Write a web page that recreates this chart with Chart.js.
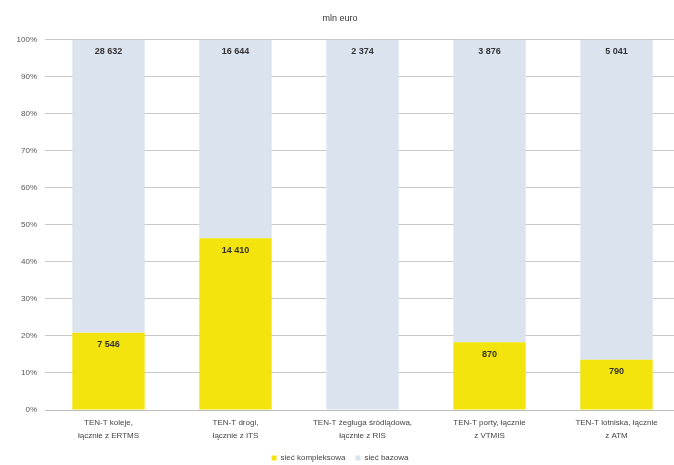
<!DOCTYPE html>
<html>
<head>
<meta charset="utf-8">
<script src="https://cdn.jsdelivr.net/npm/chart.js@4"></script>
<style>
  html, body { margin: 0; padding: 0; background: #fff; overflow: hidden; }
  #wrap { width: 680px; height: 465px; position: relative; }
</style>
</head>
<body>
<div id="wrap"><canvas id="c"></canvas></div>
<script>
// Categories (two-line labels)
const categories = [
  ['TEN-T koleje,', 'łącznie z ERTMS'],
  ['TEN-T drogi,', 'łącznie z ITS'],
  ['TEN-T żegluga śródlądowa,', 'łącznie z RIS'],
  ['TEN-T porty, łącznie', 'z VTMIS'],
  ['TEN-T lotniska, łącznie', 'z ATM']
];
// Values in mln euro
const siecKompleksowa = [7546, 14410, 0, 870, 790];
const siecBazowa = [28632, 16644, 2374, 3876, 5041];
const percentTicks = [0, 10, 20, 30, 40, 50, 60, 70, 80, 90, 100];

const FONT = "'Liberation Sans Narrow', 'Liberation Sans', Arial, sans-serif";

// Shares of each category total (100% stacked)
const totals = siecKompleksowa.map((v, i) => v + siecBazowa[i]);
const pctK = siecKompleksowa.map((v, i) => v / totals[i] * 100);
const pctB = siecBazowa.map((v, i) => v / totals[i] * 100);

const fmt = v => String(v).replace(/\B(?=(\d{3})+(?!\d))/g, ' ');

// Draws the raw value near the top of each bar segment
const valueLabels = {
  id: 'valueLabels',
  afterDatasetsDraw(chart) {
    const ctx = chart.ctx;
    ctx.save();
    ctx.font = 'bold 9px ' + FONT;
    ctx.fillStyle = '#333';
    ctx.textAlign = 'center';
    ctx.textBaseline = 'middle';
    chart.data.datasets.forEach((ds, di) => {
      const meta = chart.getDatasetMeta(di);
      meta.data.forEach((el, i) => {
        const raw = ds.raw[i];
        if (!raw) return;
        ctx.fillText(fmt(raw), el.x, el.y + 12);
      });
    });
    ctx.restore();
  }
};

new Chart(document.getElementById('c'), {
  type: 'bar',
  data: {
    labels: categories,
    datasets: [
      { label: 'sieć kompleksowa', data: pctK, raw: siecKompleksowa, backgroundColor: '#f2e40c', borderWidth: 0 },
      { label: 'sieć bazowa', data: pctB, raw: siecBazowa, backgroundColor: '#dbe3ef', borderWidth: 0 }
    ]
  },
  options: {
    responsive: true,
    maintainAspectRatio: false,
    animation: false,
    layout: { padding: { top: 0, right: 0, bottom: -7, left: 0 } },
    datasets: { bar: { categoryPercentage: 1, barPercentage: 0.57 } },
    plugins: {
      title: {
        display: true, text: 'mln euro', color: '#333',
        font: { family: FONT, size: 9, weight: 'normal' }, padding: { top: 13, bottom: 16 }
      },
      legend: {
        position: 'bottom',
        labels: {
          boxWidth: 5, boxHeight: 5, color: '#444', padding: 10,
          font: { family: FONT, size: 8 }
        }
      },
      tooltip: { enabled: false }
    },
    scales: {
      x: {
        stacked: true,
        afterFit: s => { s.height = 34; },
        grid: { display: false, drawTicks: false },
        border: { color: '#bdbdbd', width: 1 },
        ticks: { color: '#444', font: { family: FONT, size: 8, lineHeight: 1.55 }, maxRotation: 0, padding: 7 }
      },
      y: {
        stacked: true,
        min: 0, max: 100,
        afterBuildTicks: s => { s.ticks = percentTicks.map(v => ({ value: v })); },
        afterFit: s => { s.width = 45; },
        grid: { color: '#c8c8c8', drawTicks: false },
        border: { display: false },
        ticks: {
          color: '#555', padding: 8,
          font: { family: FONT, size: 8 },
          callback: v => v + '%'
        }
      }
    }
  },
  plugins: [valueLabels]
});
</script>
</body>
</html>
